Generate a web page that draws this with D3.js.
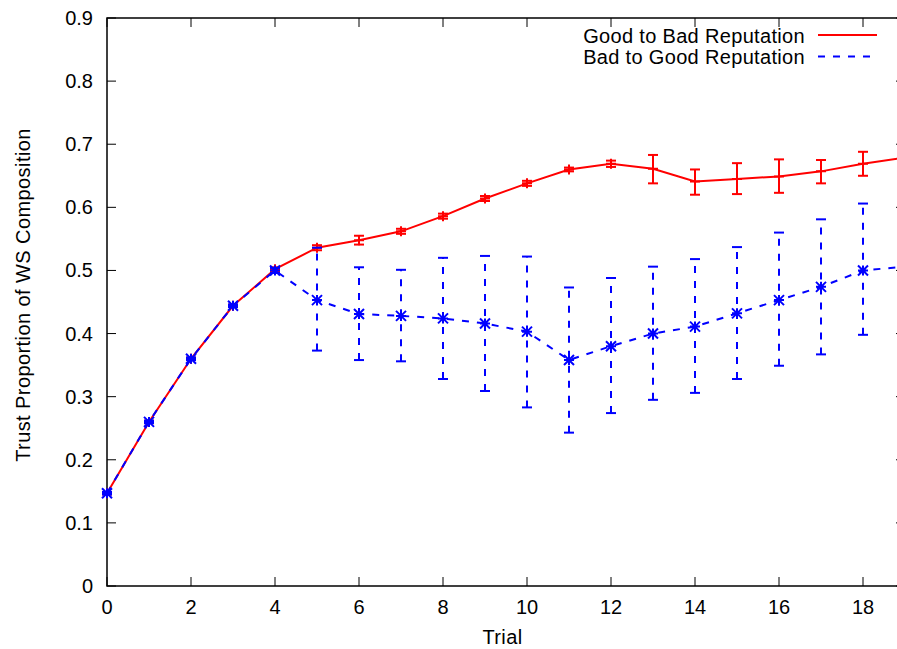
<!DOCTYPE html>
<html><head><meta charset="utf-8">
<script src="https://cdn.jsdelivr.net/npm/d3@7"></script>
<style>body{margin:0;background:#fff}svg{display:block}text{font-family:"Liberation Sans",Arial,sans-serif}</style>
</head><body>
<svg id="c" width="897" height="649"></svg>
<script>
const trials = [0,1,2,3,4,5,6,7,8,9,10,11,12,13,14,15,16,17,18,19];
const goodToBad     = [0.147,0.260,0.360,0.444,0.502,0.536,0.548,0.562,0.586,0.614,0.638,0.660,0.669,0.661,0.641,0.645,0.649,0.657,0.669,0.679];
const goodToBadLow  = [0.145,0.258,0.358,0.442,0.499,0.532,0.541,0.558,0.582,0.610,0.634,0.657,0.664,0.638,0.620,0.621,0.623,0.638,0.650,0.660];
const goodToBadHigh = [0.149,0.262,0.362,0.446,0.505,0.540,0.555,0.566,0.590,0.618,0.642,0.663,0.674,0.683,0.660,0.670,0.676,0.675,0.688,0.698];
const badToGood     = [0.147,0.260,0.360,0.444,0.500,0.453,0.431,0.428,0.424,0.416,0.403,0.358,0.380,0.400,0.411,0.432,0.453,0.474,0.500,0.506];
const badToGoodLow  = [0.145,0.258,0.358,0.442,0.496,0.373,0.358,0.356,0.328,0.309,0.283,0.243,0.274,0.295,0.306,0.328,0.349,0.367,0.398,0.400];
const badToGoodHigh = [0.149,0.262,0.362,0.446,0.504,0.536,0.505,0.501,0.520,0.523,0.522,0.473,0.488,0.506,0.518,0.537,0.560,0.581,0.606,0.612];
const xTicks = [0,2,4,6,8,10,12,14,16,18];
const yTicks = [0,0.1,0.2,0.3,0.4,0.5,0.6,0.7,0.8,0.9];
const seriesNames = ["Good to Bad Reputation","Bad to Good Reputation"];

const svg = d3.select("#c");
const L=107, R=905, T=18, B=586;
const x = d3.scaleLinear().domain([0,19]).range([L,R]);
const y = d3.scaleLinear().domain([0,0.9]).range([B,T]);

svg.append("rect").attr("x",L).attr("y",T).attr("width",R-L).attr("height",B-T)
  .attr("fill","none").attr("stroke","#000").attr("stroke-width",1.5);

const tl=9;
const gt = svg.append("g").attr("stroke","#000").attr("stroke-width",1);
xTicks.forEach(v=>{
  gt.append("line").attr("x1",x(v)).attr("x2",x(v)).attr("y1",B).attr("y2",B-tl);
  gt.append("line").attr("x1",x(v)).attr("x2",x(v)).attr("y1",T).attr("y2",T+tl);
});
yTicks.forEach(v=>{
  gt.append("line").attr("x1",L).attr("x2",L+tl).attr("y1",y(v)).attr("y2",y(v));
  gt.append("line").attr("x1",R).attr("x2",R-tl).attr("y1",y(v)).attr("y2",y(v));
});
const fs=20;
svg.append("g").selectAll("text").data(xTicks).join("text")
  .attr("x",d=>x(d)).attr("y",B+28).attr("text-anchor","middle").attr("font-size",fs).text(d=>d);
svg.append("g").selectAll("text").data(yTicks).join("text")
  .attr("x",L-14).attr("y",d=>y(d)+7).attr("text-anchor","end").attr("font-size",fs)
  .text(d=>d===0?"0":d3.format(".1f")(d));
svg.append("text").attr("x",502.5).attr("y",644).attr("text-anchor","middle").attr("font-size",fs)
  .attr("letter-spacing",0.4).text("Trial");
svg.append("text").attr("transform","translate(30,295) rotate(-90)").attr("text-anchor","middle").attr("font-size",fs)
  .attr("letter-spacing",0.42).text("Trust Proportion of WS Composition");

const plot = svg.append("g");

function drawSeries(vals, lo, hi, color, dash, marker){
  const g = plot.append("g");
  const line = d3.line().x((d,i)=>x(trials[i])).y(d=>y(d));
  g.append("path").datum(vals).attr("d",line).attr("fill","none").attr("stroke",color)
    .attr("stroke-width",2).attr("stroke-dasharray",dash);
  const cw=5;
  trials.forEach((t,i)=>{
    g.append("line").attr("x1",x(t)).attr("x2",x(t)).attr("y1",y(lo[i])).attr("y2",y(hi[i]))
      .attr("stroke",color).attr("stroke-width",2).attr("stroke-dasharray",dash);
    [lo[i],hi[i]].forEach(v=>g.append("line").attr("x1",x(t)-cw).attr("x2",x(t)+cw).attr("y1",y(v)).attr("y2",y(v))
      .attr("stroke",color).attr("stroke-width",2));
    const s=5, cx=x(t), cy=y(vals[i]);
    const p = d3.path();
    p.moveTo(cx-s,cy); p.lineTo(cx+s,cy); p.moveTo(cx,cy-s); p.lineTo(cx,cy+s);
    if(marker==="star"){ p.moveTo(cx-s,cy-s); p.lineTo(cx+s,cy+s); p.moveTo(cx-s,cy+s); p.lineTo(cx+s,cy-s);}
    g.append("path").attr("d",p.toString()).attr("stroke",color).attr("stroke-width",2).attr("fill","none");
  });
}
drawSeries(goodToBad, goodToBadLow, goodToBadHigh, "#ff0000", null, "plus");
drawSeries(badToGood, badToGoodLow, badToGoodHigh, "#0000ff", "7,8", "star");

const leg = svg.append("g");
const colors=["#ff0000","#0000ff"], dashes=[null,"7,8"];
seriesNames.forEach((n,i)=>{
  const yy = 35+i*21.5;
  leg.append("text").attr("x",805).attr("y",yy+7.5).attr("text-anchor","end").attr("font-size",fs)
    .attr("letter-spacing",0.33).text(n);
  leg.append("line").attr("x1",818).attr("x2",877).attr("y1",yy).attr("y2",yy)
    .attr("stroke",colors[i]).attr("stroke-width",2).attr("stroke-dasharray",dashes[i]);
});
</script>
</body></html>
